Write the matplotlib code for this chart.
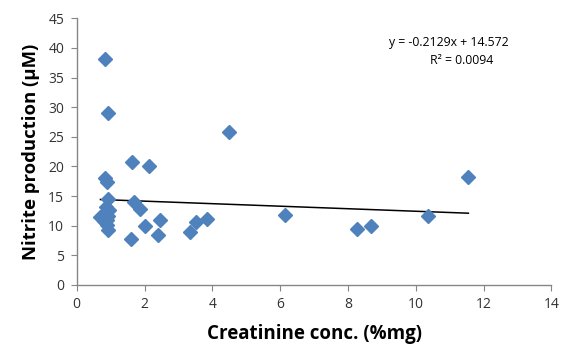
import matplotlib
matplotlib.use("Agg")
import matplotlib.pyplot as plt
import numpy as np

plt.rcParams['font.family'] = ['Open Sans', 'DejaVu Sans']

creatinine = [0.83, 0.93, 0.83, 0.90, 0.93, 0.85, 0.95, 0.82, 0.93, 0.70, 0.88, 0.90, 0.80, 0.93,
              1.63, 2.14, 1.69, 1.88, 2.47, 2.01, 2.40, 1.59, 3.33, 3.53, 3.84, 4.48, 6.13,
              8.28, 8.68, 10.36, 11.55]
nitrite = [38.1, 29.0, 18.1, 17.4, 14.5, 13.2, 12.6, 12.0, 11.7, 11.4, 11.0, 10.2, 10.8, 9.3,
           20.8, 20.1, 14.0, 12.8, 11.0, 9.9, 8.4, 7.7, 8.9, 10.7, 11.2, 25.8, 11.8,
           9.4, 9.95, 11.7, 18.3]
slope = -0.2129
intercept = 14.572
r_squared = 0.0094
x_ticks = [0, 2, 4, 6, 8, 10, 12, 14]
y_ticks = [0, 5, 10, 15, 20, 25, 30, 35, 40, 45]

fig = plt.figure(figsize=(5.61, 3.49), dpi=100)
ax = fig.add_axes([0.1367, 0.1834, 0.8463, 0.7642])

ax.plot(creatinine, nitrite, linestyle='none', marker='D', markersize=7,
        color='#4F81BD', markeredgecolor='#4F81BD', zorder=3)

xs = np.array([min(creatinine), max(creatinine)])
ax.plot(xs, slope * xs + intercept, color='black', linewidth=1.1, zorder=2)

ax.set_xlim(0, 14)
ax.set_ylim(0, 45)
ax.set_xticks(x_ticks)
ax.set_yticks(y_ticks)
ax.tick_params(axis='both', direction='out', length=4, color='#868686',
               labelsize=10, labelcolor='#333333', pad=5)
for s in ['top', 'right']:
    ax.spines[s].set_visible(False)
for s in ['left', 'bottom']:
    ax.spines[s].set_color('#868686')
    ax.spines[s].set_linewidth(1.0)

ax.set_xlabel('Creatinine conc. (%mg)', fontsize=13.5, fontweight='bold', labelpad=8)
ax.set_ylabel('Nitrite production (μM)', fontsize=13.3, fontweight='bold', labelpad=6)

ax.text(0.784, 0.911, f'y = {slope}x + {intercept}', transform=ax.transAxes,
        ha='center', va='center', fontsize=8.8)
ax.text(0.811, 0.84, f'R² = {r_squared}', transform=ax.transAxes,
        ha='center', va='center', fontsize=8.8)

fig.savefig('out.png', dpi=100)
